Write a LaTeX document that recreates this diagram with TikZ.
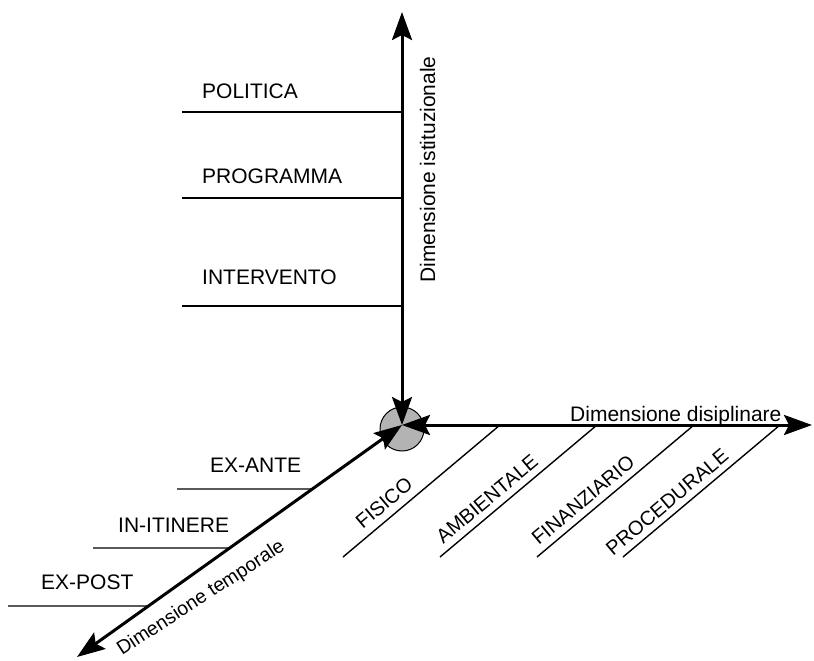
\documentclass[tikz,border=0pt]{standalone}
\usepackage{fontspec}
\setmainfont{Liberation Sans}
\usetikzlibrary{arrows.meta, positioning, calc}
\definecolor{hubgray}{HTML}{B3B3B3}
\tikzset{
    axis arrow/.style={
        line width=3pt,
        {Stealth[length=28pt, width=20pt, inset=5pt]}-{Stealth[length=28pt, width=20pt, inset=5pt]}
    },
    level line/.style={
        line width=1.4pt
    },
    level label/.style={
        font=\fontsize{21}{25}\selectfont,
        inner sep=0pt,
        anchor=base west
    },
    axis label/.style={
        font=\fontsize{21}{25}\selectfont,
        inner sep=0pt
    },
    hatch label/.style={
        font=\fontsize{20}{24}\selectfont,
        inner sep=0pt,
        rotate=40
    }
}

\begin{document}
\begin{tikzpicture}[x=1pt, y=-1pt]
    \useasboundingbox (0,0) rectangle (814,661);

    % Hub and axis ends
    \node[circle, draw, line width=1pt, fill=hubgray, minimum size=44pt, inner sep=0pt] (hub) at (402,429) {};
    \coordinate (O) at (402,425);
    \coordinate (ytip) at (402,12);
    \coordinate (xtip) at (812,425);
    \coordinate (ztip) at (77,657);

    % Axes
    \draw[axis arrow] (O) -- (ytip);
    \draw[axis arrow] (O) -- (xtip);
    \draw[axis arrow] (O) -- (ztip);

    % Axis labels
    \node[axis label, rotate=90, anchor=base west] (istit) at (435,283) {Dimensione istituzionale};
    \node[axis label, anchor=base west] (discip) at (570,421) {Dimensione disiplinare};
    \node[axis label, font=\fontsize{19.5}{24}\selectfont, rotate=33, anchor=base west] (tempo) at (122,656) {Dimensione temporale};

    % Institutional levels
    \coordinate (politica w) at (182,112);
    \coordinate (programma w) at (182,198);
    \coordinate (intervento w) at (182,306);
    \draw[level line] (politica w) -- (politica w -| O);
    \draw[level line] (programma w) -- (programma w -| O);
    \draw[level line] (intervento w) -- (intervento w -| O);
    \node[level label] (politica) at (202,99) {POLITICA};
    \node[level label] (programma) at (202,183) {PROGRAMMA};
    \node[level label] (intervento) at (202,284) {INTERVENTO};

    % Temporal levels
    \coordinate (exante w) at (177,489);
    \coordinate (initinere w) at (93,548);
    \coordinate (expost w) at (8,606);
    \draw[level line] (exante w) -- ($(O)!0.276!(ztip)$);
    \draw[level line] (initinere w) -- ($(O)!0.530!(ztip)$);
    \draw[level line] (expost w) -- ($(O)!0.780!(ztip)$);
    \node[level label] (exante) at (210,472) {EX-ANTE};
    \node[level label] (initinere) at (118,532) {IN-ITINERE};
    \node[level label] (expost) at (41,589) {EX-POST};

    % Disciplinary levels
    \draw[level line] (343,557) -- (500,425);
    \draw[level line] (440,557) -- (597,425);
    \draw[level line] (537,557) -- (694,425);
    \draw[level line] (623,557) -- (780,425);
    \node[hatch label] (fisico) at (384,503) {FISICO};
    \node[hatch label] (ambientale) at (487,499) {AMBIENTALE};
    \node[hatch label] (finanziario) at (583,500) {FINANZIARIO};
    \node[hatch label] (procedurale) at (667,502) {PROCEDURALE};
\end{tikzpicture}
\end{document}
